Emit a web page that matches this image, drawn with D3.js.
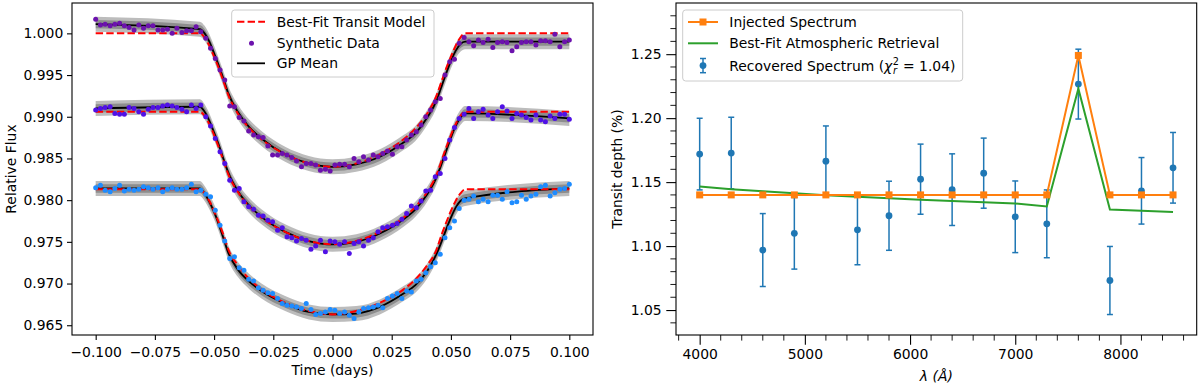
<!DOCTYPE html>
<html>
<head>
<meta charset="utf-8">
<script src="https://cdn.jsdelivr.net/npm/d3@7"></script>
<style>
  body { margin: 0; background: #fff; }
  text { font-family: "DejaVu Sans", sans-serif; }
</style>
</head>
<body>
<div id="chart"></div>
<script>
// ---- left panel data: synthetic light curves ----
const times = [
  -0.1000, -0.0980, -0.0960, -0.0939, -0.0919, -0.0899, -0.0879, -0.0859, -0.0838, -0.0818,
  -0.0798, -0.0778, -0.0758, -0.0737, -0.0717, -0.0697, -0.0677, -0.0657, -0.0636, -0.0616,
  -0.0596, -0.0576, -0.0556, -0.0535, -0.0515, -0.0495, -0.0475, -0.0455, -0.0434, -0.0414,
  -0.0394, -0.0374, -0.0354, -0.0333, -0.0313, -0.0293, -0.0273, -0.0253, -0.0232, -0.0212,
  -0.0192, -0.0172, -0.0152, -0.0131, -0.0111, -0.0091, -0.0071, -0.0051, -0.0030, -0.0010,
  0.0010, 0.0030, 0.0051, 0.0071, 0.0091, 0.0111, 0.0131, 0.0152, 0.0172, 0.0192,
  0.0212, 0.0232, 0.0253, 0.0273, 0.0293, 0.0313, 0.0333, 0.0354, 0.0374, 0.0394,
  0.0414, 0.0434, 0.0455, 0.0475, 0.0495, 0.0515, 0.0535, 0.0556, 0.0576, 0.0596,
  0.0616, 0.0636, 0.0657, 0.0677, 0.0697, 0.0717, 0.0737, 0.0758, 0.0778, 0.0798,
  0.0818, 0.0838, 0.0859, 0.0879, 0.0899, 0.0919, 0.0939, 0.0960, 0.0980, 0.1000
];

const fluxTop = [
  1.0017, 1.0010, 1.0011, 1.0009, 1.0011, 1.0012, 1.0009, 1.0007, 1.0004, 1.0010,
  1.0006, 1.0009, 1.0009, 1.0004, 1.0004, 1.0005, 1.0000, 1.0006, 1.0001, 1.0003,
  1.0003, 1.0008, 1.0002, 0.9994, 0.9982, 0.9970, 0.9956, 0.9944, 0.9913, 0.9912,
  0.9899, 0.9895, 0.9883, 0.9878, 0.9876, 0.9875, 0.9865, 0.9854, 0.9854, 0.9856,
  0.9854, 0.9851, 0.9847, 0.9840, 0.9844, 0.9844, 0.9842, 0.9836, 0.9837, 0.9835,
  0.9842, 0.9843, 0.9843, 0.9840, 0.9850, 0.9846, 0.9852, 0.9848, 0.9854, 0.9852,
  0.9856, 0.9859, 0.9855, 0.9864, 0.9864, 0.9872, 0.9878, 0.9882, 0.9890, 0.9900,
  0.9908, 0.9918, 0.9922, 0.9950, 0.9966, 0.9969, 0.9988, 0.9995, 0.9990, 0.9985,
  0.9992, 0.9989, 0.9993, 0.9983, 0.9989, 0.9990, 0.9989, 0.9979, 0.9984, 0.9989,
  0.9990, 0.9990, 0.9986, 0.9991, 0.9991, 0.9990, 0.9999, 0.9984, 0.9990, 0.9992
];

const fluxMid = [
  0.9908, 0.9910, 0.9911, 0.9912, 0.9904, 0.9903, 0.9903, 0.9911, 0.9910, 0.9906,
  0.9903, 0.9909, 0.9911, 0.9911, 0.9913, 0.9914, 0.9913, 0.9911, 0.9909, 0.9906,
  0.9914, 0.9910, 0.9914, 0.9900, 0.9889, 0.9874, 0.9858, 0.9844, 0.9824, 0.9812,
  0.9814, 0.9798, 0.9792, 0.9789, 0.9782, 0.9781, 0.9776, 0.9774, 0.9764, 0.9767,
  0.9756, 0.9755, 0.9751, 0.9754, 0.9752, 0.9741, 0.9745, 0.9752, 0.9738, 0.9751,
  0.9750, 0.9747, 0.9750, 0.9736, 0.9748, 0.9750, 0.9745, 0.9752, 0.9755, 0.9762,
  0.9767, 0.9768, 0.9770, 0.9772, 0.9777, 0.9784, 0.9793, 0.9791, 0.9799, 0.9811,
  0.9812, 0.9828, 0.9832, 0.9850, 0.9872, 0.9887, 0.9898, 0.9903, 0.9910, 0.9898,
  0.9906, 0.9909, 0.9902, 0.9898, 0.9906, 0.9912, 0.9907, 0.9898, 0.9904, 0.9902,
  0.9899, 0.9896, 0.9902, 0.9896, 0.9894, 0.9901, 0.9898, 0.9903, 0.9903, 0.9897
];

const fluxBot = [
  0.9815, 0.9818, 0.9812, 0.9810, 0.9814, 0.9818, 0.9811, 0.9813, 0.9812, 0.9813,
  0.9816, 0.9815, 0.9813, 0.9815, 0.9810, 0.9813, 0.9815, 0.9813, 0.9813, 0.9815,
  0.9819, 0.9810, 0.9812, 0.9807, 0.9804, 0.9788, 0.9770, 0.9751, 0.9730, 0.9732,
  0.9719, 0.9716, 0.9705, 0.9703, 0.9695, 0.9692, 0.9689, 0.9688, 0.9682, 0.9676,
  0.9674, 0.9673, 0.9672, 0.9670, 0.9676, 0.9669, 0.9663, 0.9664, 0.9666, 0.9669,
  0.9668, 0.9664, 0.9666, 0.9662, 0.9658, 0.9666, 0.9670, 0.9671, 0.9672, 0.9674,
  0.9671, 0.9682, 0.9685, 0.9688, 0.9682, 0.9691, 0.9690, 0.9703, 0.9705, 0.9713,
  0.9720, 0.9725, 0.9735, 0.9755, 0.9767, 0.9775, 0.9790, 0.9800, 0.9801, 0.9805,
  0.9798, 0.9801, 0.9798, 0.9806, 0.9806, 0.9801, 0.9810, 0.9797, 0.9798, 0.9806,
  0.9801, 0.9805, 0.9807, 0.9816, 0.9818, 0.9805, 0.9809, 0.9813, 0.9814, 0.9819
];

// model curves read at these times
const modelT = [-0.100, -0.056, -0.054, -0.052, -0.050, -0.048, -0.046, -0.044, -0.040, -0.035,
  -0.030, -0.020, -0.010, 0.000, 0.010, 0.020, 0.030, 0.035, 0.040, 0.044,
  0.046, 0.048, 0.050, 0.052, 0.054, 0.056, 0.100];

const modelTop = [1.0000, 1.0000, 0.9995, 0.9985, 0.9972, 0.9958, 0.9942, 0.9926, 0.9904, 0.9886,
  0.9873, 0.9855, 0.9844, 0.9840, 0.9844, 0.9855, 0.9873, 0.9886, 0.9904, 0.9926,
  0.9942, 0.9958, 0.9972, 0.9985, 0.9995, 1.0000, 1.0000];
const gpTop = [1.0011, 1.0005, 1.0000, 0.9990, 0.9976, 0.9961, 0.9945, 0.9928, 0.9906, 0.9887,
  0.9874, 0.9855, 0.9844, 0.9840, 0.9843, 0.9852, 0.9869, 0.9880, 0.9899, 0.9920,
  0.9936, 0.9952, 0.9967, 0.9979, 0.9987, 0.9990, 0.9990];

const modelMid = [0.9906, 0.9906, 0.9901, 0.9891, 0.9878, 0.9863, 0.9847, 0.9831, 0.9810, 0.9792,
  0.9779, 0.9762, 0.9751, 0.9747, 0.9751, 0.9762, 0.9779, 0.9792, 0.9810, 0.9831,
  0.9847, 0.9863, 0.9878, 0.9891, 0.9901, 0.9906, 0.9906];
const gpMid = [0.9910, 0.9912, 0.9906, 0.9895, 0.9881, 0.9866, 0.9849, 0.9833, 0.9811, 0.9793,
  0.9780, 0.9762, 0.9751, 0.9747, 0.9750, 0.9760, 0.9777, 0.9789, 0.9807, 0.9828,
  0.9843, 0.9859, 0.9875, 0.9889, 0.9899, 0.9904, 0.9898];

const modelBot = [0.9813, 0.9813, 0.9808, 0.9799, 0.9787, 0.9773, 0.9758, 0.9741, 0.9722, 0.9705,
  0.9693, 0.9677, 0.9667, 0.9663, 0.9667, 0.9677, 0.9693, 0.9705, 0.9722, 0.9741,
  0.9758, 0.9773, 0.9787, 0.9799, 0.9808, 0.9813, 0.9813];
const gpBot = [0.9814, 0.9814, 0.9808, 0.9798, 0.9786, 0.9771, 0.9754, 0.9737, 0.9717, 0.9702,
  0.9691, 0.9676, 0.9666, 0.9663, 0.9664, 0.9672, 0.9688, 0.9698, 0.9715, 0.9736,
  0.9750, 0.9765, 0.9779, 0.9791, 0.9799, 0.9802, 0.9814];

// GP spread (outer, inner half widths)
const gpSpread = [0.0009, 0.0005];

const xTicksL = [-0.1, -0.075, -0.05, -0.025, 0, 0.025, 0.05, 0.075, 0.1];
const yTicksL = [0.965, 0.970, 0.975, 0.980, 0.985, 0.990, 0.995, 1.000];

// ---- right panel data: spectrum ----
const waves = [4000, 4300, 4600, 4900, 5200, 5500, 5800, 6100, 6400, 6700, 7000, 7300, 7600, 7900, 8200, 8500];
const injected = [1.14, 1.14, 1.14, 1.14, 1.14, 1.14, 1.14, 1.14, 1.14, 1.14, 1.14, 1.14, 1.249, 1.14, 1.14, 1.14];
const retrieved = [1.1465, 1.1445, 1.1428, 1.1412, 1.1398, 1.1385, 1.1373, 1.1362, 1.1352, 1.1342,
  1.1333, 1.1310, 1.2230, 1.1286, 1.1276, 1.1266];
const recovered = [1.1719, 1.1727, 1.0969, 1.1100, 1.1664, 1.1127, 1.1237, 1.1523, 1.1441, 1.1570,
  1.1229, 1.1174, 1.2266, 1.0731, 1.1432, 1.1612];
const recErr = [0.028, 0.028, 0.0285, 0.028, 0.0275, 0.0273, 0.027, 0.0274, 0.028, 0.0274,
  0.028, 0.0265, 0.0273, 0.0266, 0.026, 0.0276];

const xTicksR = [4000, 5000, 6000, 7000, 8000];
const yTicksR = [1.05, 1.10, 1.15, 1.20, 1.25];

const FS = 13.9;

const svg = d3.select('#chart')
  .append('svg')
  .attr('width', 1200)
  .attr('height', 387);

// ================= left panel =================
const L = { x0: 72, x1: 593, y0: 3, y1: 335 };
const xL = d3.scaleLinear().domain([-0.11, 0.11]).range([L.x0, L.x1]);
const yL = d3.scaleLinear().domain([0.96383, 1.00364]).range([L.y1, L.y0]);

const left = svg.append('g');
svg.append('clipPath').attr('id', 'clipL')
  .append('rect').attr('x', L.x0).attr('y', L.y0).attr('width', L.x1 - L.x0).attr('height', L.y1 - L.y0);

const curves = [
  { flux: fluxTop, model: modelTop, gp: gpTop, color: '#6c12ad' },
  { flux: fluxMid, model: modelMid, gp: gpMid, color: '#5011e6' },
  { flux: fluxBot, model: modelBot, gp: gpBot, color: '#1e8cff' }
];

const plotL = left.append('g').attr('clip-path', 'url(#clipL)');

curves.forEach(c => {
  const pts = modelT.map((t, i) => ({ t, m: c.model[i], g: c.gp[i] }));
  // GP band
  gpSpread.forEach((w, k) => {
    plotL.append('path')
      .datum(pts)
      .attr('fill', k === 0 ? '#8f8f8f' : '#555555')
      .attr('fill-opacity', k === 0 ? 0.6 : 0.45)
      .attr('d', d3.area()
        .x(d => xL(d.t))
        .y0(d => yL(d.g - w))
        .y1(d => yL(d.g + w))
        .curve(d3.curveMonotoneX));
  });
  // GP mean
  plotL.append('path')
    .datum(pts)
    .attr('fill', 'none')
    .attr('stroke', '#000')
    .attr('stroke-width', 1.8)
    .attr('d', d3.line().x(d => xL(d.t)).y(d => yL(d.g)).curve(d3.curveMonotoneX));
  // transit model
  plotL.append('path')
    .datum(pts)
    .attr('fill', 'none')
    .attr('stroke', '#ff0000')
    .attr('stroke-width', 2)
    .attr('stroke-dasharray', '7.4,3.2')
    .attr('d', d3.line().x(d => xL(d.t)).y(d => yL(d.m)).curve(d3.curveMonotoneX));
});

// synthetic data on top
curves.forEach(c => {
  plotL.append('g')
    .selectAll('circle')
    .data(times.map((t, i) => ({ t, f: c.flux[i] })))
    .join('circle')
    .attr('cx', d => xL(d.t))
    .attr('cy', d => yL(d.f))
    .attr('r', 2.5)
    .attr('fill', c.color);
});

// axes
const axL = left.append('g').attr('transform', `translate(0,${L.y1})`)
  .call(d3.axisBottom(xL).tickValues(xTicksL).tickFormat(d3.format('.3f')).tickSize(5).tickPadding(7));
const ayL = left.append('g').attr('transform', `translate(${L.x0},0)`)
  .call(d3.axisLeft(yL).tickValues(yTicksL).tickFormat(d3.format('.3f')).tickSize(5).tickPadding(3.7));
[axL, ayL].forEach(a => {
  a.select('.domain').remove();
  a.selectAll('line').attr('stroke', '#000').attr('stroke-width', 1.1);
  a.selectAll('text').attr('font-size', FS).attr('fill', '#000').attr('font-family', '"DejaVu Sans", sans-serif');
});
left.append('rect')
  .attr('x', L.x0).attr('y', L.y0).attr('width', L.x1 - L.x0).attr('height', L.y1 - L.y0)
  .attr('fill', 'none').attr('stroke', '#000').attr('stroke-width', 1.1);

left.append('text')
  .attr('x', (L.x0 + L.x1) / 2).attr('y', 374.5)
  .attr('text-anchor', 'middle').attr('font-size', FS)
  .text('Time (days)');
left.append('text')
  .attr('transform', `translate(15.5,${(L.y0 + L.y1) / 2}) rotate(-90)`)
  .attr('text-anchor', 'middle').attr('font-size', FS)
  .text('Relative Flux');

// legend (left)
const legL = left.append('g');
legL.append('rect')
  .attr('x', 231.7).attr('y', 10).attr('width', 202.3).attr('height', 67).attr('rx', 3)
  .attr('fill', '#fff').attr('fill-opacity', 0.8).attr('stroke', '#cccccc').attr('stroke-width', 1);
legL.append('line').attr('x1', 237).attr('x2', 265).attr('y1', 21.7).attr('y2', 21.7)
  .attr('stroke', '#ff0000').attr('stroke-width', 2).attr('stroke-dasharray', '7.4,3.2');
legL.append('circle').attr('cx', 251.5).attr('cy', 43.2).attr('r', 2.5).attr('fill', curves[0].color);
legL.append('line').attr('x1', 237).attr('x2', 265).attr('y1', 63.3).attr('y2', 63.3)
  .attr('stroke', '#000').attr('stroke-width', 1.8);
['Best-Fit Transit Model', 'Synthetic Data', 'GP Mean'].forEach((s, i) => {
  legL.append('text').attr('x', 276.7).attr('y', [21.7, 43.2, 63.3][i] + 4.9)
    .attr('font-size', FS).text(s);
});

// ================= right panel =================
const R = { x0: 676, x1: 1196.7, y0: 3, y1: 335 };
const xR = d3.scaleLinear().domain([3775, 8725]).range([R.x0, R.x1]);
const yR = d3.scaleLinear().domain([1.0305, 1.290]).range([R.y1, R.y0]);
const right = svg.append('g');

// error bars
const eb = right.append('g');
waves.forEach((w, i) => {
  const x = xR(w);
  const lo = yR(recovered[i] - recErr[i]);
  const hi = yR(recovered[i] + recErr[i]);
  eb.append('line').attr('x1', x).attr('x2', x).attr('y1', lo).attr('y2', hi)
    .attr('stroke', '#1f77b4').attr('stroke-width', 1.5);
  [lo, hi].forEach(y => eb.append('line').attr('x1', x - 3).attr('x2', x + 3).attr('y1', y).attr('y2', y)
    .attr('stroke', '#1f77b4').attr('stroke-width', 1.5));
});
eb.selectAll('circle')
  .data(waves.map((w, i) => ({ w, v: recovered[i] })))
  .join('circle')
  .attr('cx', d => xR(d.w)).attr('cy', d => yR(d.v)).attr('r', 3.4).attr('fill', '#1f77b4');

// retrieval
right.append('path')
  .datum(waves.map((w, i) => ({ w, v: retrieved[i] })))
  .attr('fill', 'none').attr('stroke', '#2ca02c').attr('stroke-width', 2)
  .attr('d', d3.line().x(d => xR(d.w)).y(d => yR(d.v)));

// injected
const injPts = waves.map((w, i) => ({ w, v: injected[i] }));
right.append('path')
  .datum(injPts)
  .attr('fill', 'none').attr('stroke', '#ff7f0e').attr('stroke-width', 2)
  .attr('d', d3.line().x(d => xR(d.w)).y(d => yR(d.v)));
right.append('g').selectAll('rect')
  .data(injPts)
  .join('rect')
  .attr('x', d => xR(d.w) - 3.5).attr('y', d => yR(d.v) - 3.5)
  .attr('width', 7).attr('height', 7).attr('fill', '#ff7f0e');

// axes
const axR = right.append('g').attr('transform', `translate(0,${R.y1})`)
  .call(d3.axisBottom(xR).tickValues(xTicksR).tickFormat(d3.format('d')).tickSize(9.7).tickPadding(4.9));
const ayR = right.append('g').attr('transform', `translate(${R.x0},0)`)
  .call(d3.axisLeft(yR).tickValues(yTicksR).tickFormat(d3.format('.2f')).tickSize(9.7).tickPadding(4.6));
// minor ticks
const minorX = d3.range(3800, 8601, 200).filter(v => v % 1000 !== 0);
const minorY = d3.range(1.04, 1.285, 0.01).filter(v => Math.abs(v * 20 - Math.round(v * 20)) > 1e-6);
right.append('g').selectAll('line').data(minorX).join('line')
  .attr('x1', d => xR(d)).attr('x2', d => xR(d)).attr('y1', R.y1).attr('y2', R.y1 + 5.6)
  .attr('stroke', '#000').attr('stroke-width', 0.9);
right.append('g').selectAll('line').data(minorY).join('line')
  .attr('y1', d => yR(d)).attr('y2', d => yR(d)).attr('x1', R.x0).attr('x2', R.x0 - 5.6)
  .attr('stroke', '#000').attr('stroke-width', 0.9);
[axR, ayR].forEach(a => {
  a.select('.domain').remove();
  a.selectAll('line').attr('stroke', '#000').attr('stroke-width', 1.1);
  a.selectAll('text').attr('font-size', FS).attr('fill', '#000').attr('font-family', '"DejaVu Sans", sans-serif');
});
right.append('rect')
  .attr('x', R.x0).attr('y', R.y0).attr('width', R.x1 - R.x0).attr('height', R.y1 - R.y0)
  .attr('fill', 'none').attr('stroke', '#000').attr('stroke-width', 1.1);

right.append('text')
  .attr('x', (R.x0 + R.x1) / 2).attr('y', 381)
  .attr('text-anchor', 'middle').attr('font-size', FS).attr('font-style', 'italic')
  .text('λ (Å)');
right.append('text')
  .attr('transform', `translate(621.5,${(R.y0 + R.y1) / 2}) rotate(-90)`)
  .attr('text-anchor', 'middle').attr('font-size', FS)
  .text('Transit depth (%)');

// legend (right)
const legR = right.append('g');
legR.append('rect')
  .attr('x', 682.7).attr('y', 10).attr('width', 280).attr('height', 71).attr('rx', 3)
  .attr('fill', '#fff').attr('fill-opacity', 0.8).attr('stroke', '#cccccc').attr('stroke-width', 1);
legR.append('line').attr('x1', 688).attr('x2', 718).attr('y1', 22).attr('y2', 22)
  .attr('stroke', '#ff7f0e').attr('stroke-width', 2);
legR.append('rect').attr('x', 699.5).attr('y', 18.5).attr('width', 7).attr('height', 7).attr('fill', '#ff7f0e');
legR.append('line').attr('x1', 688).attr('x2', 718).attr('y1', 43.3).attr('y2', 43.3)
  .attr('stroke', '#2ca02c').attr('stroke-width', 2);
legR.append('line').attr('x1', 703).attr('x2', 703).attr('y1', 58.5).attr('y2', 72.7)
  .attr('stroke', '#1f77b4').attr('stroke-width', 1.5);
[58.5, 72.7].forEach(y => legR.append('line').attr('x1', 700).attr('x2', 706).attr('y1', y).attr('y2', y)
  .attr('stroke', '#1f77b4').attr('stroke-width', 1.5));
legR.append('circle').attr('cx', 703).attr('cy', 65.6).attr('r', 3.4).attr('fill', '#1f77b4');

legR.append('text').attr('x', 729.3).attr('y', 26.9).attr('font-size', FS).text('Injected Spectrum');
legR.append('text').attr('x', 729.3).attr('y', 48.2).attr('font-size', FS).text('Best-Fit Atmospheric Retrieval');
const chi = legR.append('text').attr('x', 729.3).attr('y', 70.5).attr('font-size', FS);
chi.append('tspan').text('Recovered Spectrum (');
chi.append('tspan').attr('font-style', 'italic').text('χ');
chi.append('tspan').attr('font-size', FS * 0.7).attr('dy', -5.5).attr('dx', 0.5).text('2');
chi.append('tspan').attr('font-size', FS * 0.7).attr('font-style', 'italic').attr('dx', -6).attr('dy', 9).text('r');
chi.append('tspan').attr('dy', -3.5).attr('dx', 6).text('= 1.04)');
</script>
</body>
</html>
